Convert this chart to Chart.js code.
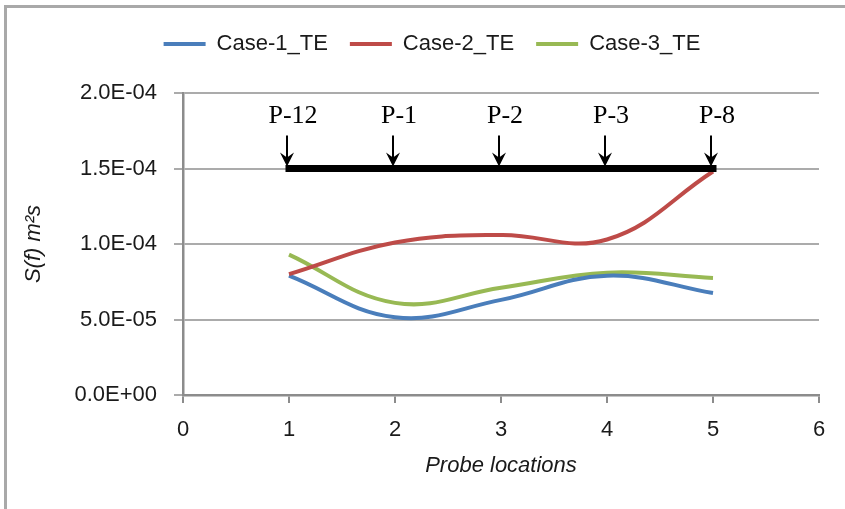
<!DOCTYPE html>
<html>
<head>
<meta charset="utf-8">
<script src="https://cdn.jsdelivr.net/npm/chart.js@4/dist/chart.umd.min.js"></script>
<style>
  html, body { margin: 0; padding: 0; background: #ffffff; }
  #wrap { position: relative; width: 845px; height: 509px; }
</style>
</head>
<body>
<div id="wrap"><canvas id="c" width="845" height="509"></canvas></div>
<script>
// ---- data ----
const probeX = [1, 2, 3, 4, 5];
const probeLabels = ['P-12', 'P-1', 'P-2', 'P-3', 'P-8'];
const seriesNames = ['Case-1_TE', 'Case-2_TE', 'Case-3_TE'];
const case1 = [7.9e-5, 5.15e-5, 6.3e-5, 7.9e-5, 6.75e-5];
const case2 = [8.0e-5, 1.01e-4, 1.06e-4, 1.03e-4, 1.48e-4];
const case3 = [9.3e-5, 6.1e-5, 7.1e-5, 8.1e-5, 7.75e-5];
const probeLineY = [1.5e-4, 1.5e-4];
const probeLineX = [1, 5];
const yTicks = [0, 5e-5, 1e-4, 1.5e-4, 2e-4];
const xTicks = [0, 1, 2, 3, 4, 5, 6];

const colors = ['#4a7ebb', '#be4b48', '#98b954'];
const textColor = '#1a1a1a';
const sansFont = '"Liberation Sans", Arial, sans-serif';

function fmtExp(v) {
  const s = Number(v).toExponential(1).split('e');
  let e = parseInt(s[1], 10);
  const sign = e < 0 ? '-' : '+';
  e = Math.abs(e);
  return s[0] + 'E' + sign + (e < 10 ? '0' + e : '' + e);
}

function pts(xs, ys) { return xs.map((x, i) => ({ x: x, y: ys[i] })); }

const frame = {
  id: 'frame',
  beforeDraw(chart) {
    const ctx = chart.ctx;
    ctx.save();
    ctx.fillStyle = '#ffffff';
    ctx.fillRect(0, 0, chart.width, chart.height);
    ctx.fillStyle = '#a9a9a9';
    ctx.fillRect(4, 5, chart.width - 4, 3);
    ctx.fillRect(4, 5, 3, chart.height - 5);
    ctx.restore();
  }
};

const arrows = {
  id: 'arrows',
  afterDatasetsDraw(chart) {
    const ctx = chart.ctx;
    const xs = chart.scales.x, ys = chart.scales.y;
    const yLine = ys.getPixelForValue(probeLineY[0]);
    ctx.save();
    ctx.strokeStyle = '#000';
    ctx.fillStyle = '#000';
    probeX.forEach((xv, i) => {
      const px = xs.getPixelForValue(xv) - 2;
      const tip = yLine - 2;
      ctx.lineWidth = 2;
      ctx.beginPath();
      ctx.moveTo(px, yLine - 33);
      ctx.lineTo(px, tip - 6);
      ctx.stroke();
      ctx.beginPath();
      ctx.moveTo(px, tip);
      ctx.lineTo(px - 7, tip - 14);
      ctx.lineTo(px, tip - 9);
      ctx.lineTo(px + 7, tip - 14);
      ctx.closePath();
      ctx.fill();
      ctx.font = '26px "Liberation Serif", "Times New Roman", serif';
      ctx.textAlign = 'center';
      ctx.textBaseline = 'middle';
      ctx.fillText(probeLabels[i], px + 6, yLine - 52);
    });
    ctx.restore();
  }
};

const chart = new Chart(document.getElementById('c'), {
  type: 'line',
  data: {
    datasets: [
      { label: seriesNames[0], data: pts(probeX, case1), borderColor: colors[0], backgroundColor: colors[0], borderWidth: 4, pointRadius: 0, tension: 0.4, order: 3 },
      { label: seriesNames[1], data: pts(probeX, case2), borderColor: colors[1], backgroundColor: colors[1], borderWidth: 4, pointRadius: 0, tension: 0.4, order: 2 },
      { label: seriesNames[2], data: pts(probeX, case3), borderColor: colors[2], backgroundColor: colors[2], borderWidth: 4, pointRadius: 0, tension: 0.4, order: 4 },
      { label: 'probes', data: pts(probeLineX, probeLineY), borderColor: '#000', backgroundColor: '#000', borderWidth: 7, borderCapStyle: 'square', pointRadius: 0, tension: 0, order: 0 }
    ]
  },
  options: {
    responsive: false,
    animation: false,
    devicePixelRatio: 1,
    layout: { padding: { left: 45, right: 26, top: 11, bottom: 0 } },
    plugins: {
      tooltip: { enabled: false },
      legend: {
        position: 'top',
        align: 'center',
        labels: {
          boxWidth: 42,
          boxHeight: 4,
          padding: 22,
          color: textColor,
          font: { family: sansFont, size: 22 },
          sort: (a, b) => a.datasetIndex - b.datasetIndex,
          generateLabels(chart) {
            const items = Chart.defaults.plugins.legend.labels.generateLabels(chart);
            items.forEach(it => { it.lineWidth = 0; it.fillStyle = it.strokeStyle; });
            return items.filter(it => it.datasetIndex < 3);
          }
        }
      }
    },
    scales: {
      x: {
        type: 'linear',
        min: 0, max: 6,
        afterBuildTicks(scale) { scale.ticks = xTicks.map(v => ({ value: v })); },
        afterFit(scale) { scale.height = 114; },
        ticks: { color: textColor, padding: 14, font: { family: sansFont, size: 22 } },
        grid: { drawOnChartArea: false, drawTicks: true, tickLength: 8, color: '#8c8c8c', lineWidth: 2 },
        border: { display: true, color: '#8c8c8c', width: 2.5 },
        title: { display: true, text: 'Probe locations', color: textColor, padding: { top: 0, bottom: 30 },
                 font: { family: sansFont, size: 22, style: 'italic' } }
      },
      y: {
        min: 0, max: 2e-4,
        afterBuildTicks(scale) { scale.ticks = yTicks.map(v => ({ value: v })); },
        afterFit(scale) { scale.width = 138; },
        ticks: { color: textColor, padding: 17, callback: v => fmtExp(v), font: { family: sansFont, size: 22 } },
        grid: { drawOnChartArea: true, drawTicks: true, tickLength: 9, color: '#ababab', lineWidth: 2 },
        border: { display: true, color: '#8c8c8c', width: 2.5 },
        title: { display: true, text: 'S(f) m²s', color: textColor, padding: { top: -24, bottom: 0 },
                 font: { family: sansFont, size: 22, style: 'italic' } }
      }
    }
  },
  plugins: [frame, arrows, {
    id: 'legendHeight',
    beforeInit(chart) {
      const fit = chart.legend.fit;
      chart.legend.fit = function () { fit.call(this); this.height = 82; };
    }
  }]
});
</script>
</body>
</html>
